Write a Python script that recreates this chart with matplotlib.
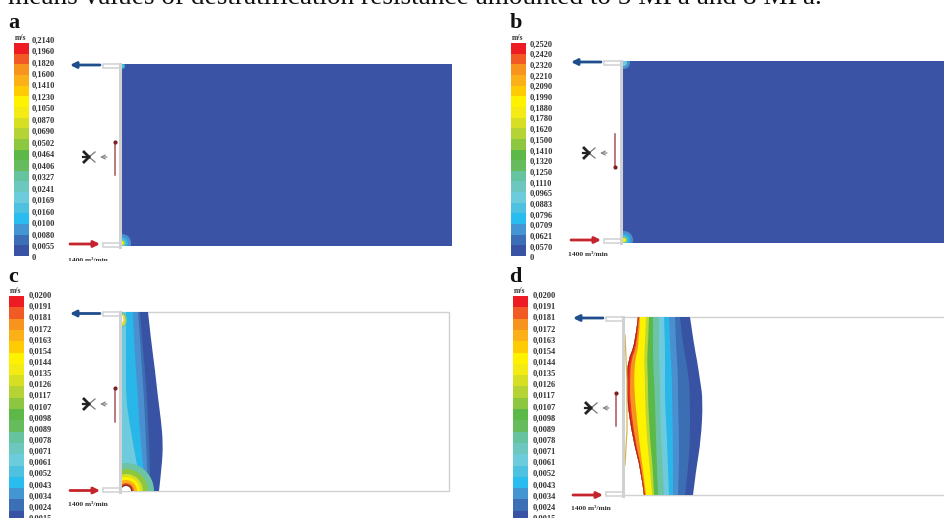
import numpy as np
import matplotlib
matplotlib.use('Agg')
import matplotlib.pyplot as plt
from matplotlib.patches import Circle, Ellipse, PathPatch, Rectangle
from matplotlib.path import Path

plt.rcParams['font.family'] = ['Liberation Serif', 'DejaVu Serif']

caption = "means values of destratification resistance amounted to 5 MPa and 8 MPa."

# colour scale, top to bottom
scale_colors = ['#ED1C24', '#F15A24', '#F7941D', '#FBB017', '#FFCB05', '#FFF200', '#F4EB14',
                '#D7DF23', '#B5D334', '#8DC63F', '#5DB947', '#66BC5C', '#65C3A0', '#6CC7BE',
                '#6DCCDC', '#4FC1E0', '#29BDEF', '#4496D2', '#3C6FB6', '#3953A4']

labels_a = ['0,2140', '0,1960', '0,1820', '0,1600', '0,1410', '0,1230', '0,1050', '0,0870',
            '0,0690', '0,0502', '0,0464', '0,0406', '0,0327', '0,0241', '0,0169', '0,0160',
            '0,0100', '0,0080', '0,0055', '0']
labels_b = ['0,2520', '0,2420', '0,2320', '0,2210', '0,2090', '0,1990', '0,1880', '0,1780',
            '0,1620', '0,1500', '0,1410', '0,1320', '0,1250', '0,1110', '0,0965', '0,0883',
            '0,0796', '0,0709', '0,0621', '0,0570', '0']
labels_cd = ['0,0200', '0,0191', '0,0181', '0,0172', '0,0163', '0,0154', '0,0144', '0,0135',
             '0,0126', '0,0117', '0,0107', '0,0098', '0,0089', '0,0078', '0,0071', '0,0061',
             '0,0052', '0,0043', '0,0034', '0,0024', '0,0015']

# velocity bands of panel c, right edge of each band per row
c_colors = ['#6ECBDD', '#29B6E8', '#4A90D0', '#3C6EB4', '#3953A4']
c_rows = [312, 340, 370, 398, 420, 443, 465, 491]
c_inner = [121, 121, 121, 121, 121, 121, 121, 121]
c_edges = [[126, 126, 126, 126, 129, 133, 137, 142],
           [133, 134, 136, 138, 139, 141, 143, 145],
           [138, 140, 142, 144, 145, 146, 147, 148],
           [140, 142, 145, 147, 148, 149, 150, 150],
           [148, 151, 155, 158, 161, 163, 162, 159]]

# velocity bands of panel d
d_colors = ['#A81E22', '#EE3124', '#F7941D', '#FFF200', '#BFD730', '#5BB947', '#6CC4A4',
            '#6ECBDD', '#29B6E8', '#4A90D0', '#3C6EB4', '#3953A4']
d_rows = [317, 345, 360, 380, 400, 440, 470, 495]
d_inner = [638, 635, 628, 627, 627, 633, 641, 644]
d_edges = [[638.5, 636, 629, 628, 628, 634, 641.5, 644.5],
           [639, 637, 631, 630, 630, 635, 642, 645],
           [640, 639, 635, 634, 635, 639, 643, 646],
           [646, 645, 644, 645, 645, 647, 650, 652],
           [649, 648, 647, 648, 648, 650, 653, 654],
           [653, 653, 653, 654, 655, 656, 657, 658],
           [659, 659, 659, 660, 660, 661, 663, 664],
           [664, 665, 665, 665, 665, 667, 668, 669],
           [669, 670, 671, 672, 672, 673, 673, 673],
           [675, 676, 677, 678, 678, 679, 679, 678],
           [680, 683, 686, 689, 690, 690, 688, 685],
           [690, 694, 697, 700, 703, 701, 696, 693]]

room_blue = '#3A53A4'
wall_gray = '#CFD1D2'

fig = plt.figure(figsize=(9.45, 5.18), dpi=100)
ax = fig.add_axes([0, 0, 1, 1])
ax.set_xlim(0, 945)
ax.set_ylim(518, 0)
ax.axis('off')


def colorbar(x, top, bottom, labels, label_x, label_top, label_step):
    h = (bottom - top) / len(scale_colors)
    for i, c in enumerate(scale_colors):
        ax.bar(x, h + 0.3, width=15, bottom=top + i * h, color=c, align='edge', linewidth=0)
    for i, t in enumerate(labels):
        ax.text(label_x, label_top + i * label_step, t, fontsize=6, fontweight='bold',
                color='#333333', va='center', ha='left')
    ax.text(x + 7, top - 5, 'm/s', fontsize=5.5, fontweight='bold', color='#333333',
            ha='center', va='center')


def duct(wall, top, bottom, arrow_top, arrow_bottom, fan_x, fan_y, line_x, line_y, up, note):
    # inlet and outlet stubs plus the wall between them
    for y in (top, bottom - 4):
        ax.add_patch(Rectangle((wall - 17, y), 17, 4, facecolor='white', edgecolor=wall_gray, lw=1.1))
    ax.plot([wall, wall], [top, bottom], color=wall_gray, lw=2.2, zorder=3)
    ax.annotate('', xy=(wall - 50, arrow_top), xytext=(wall - 20, arrow_top),
                arrowprops=dict(arrowstyle='-|>', color='#1F4E8C', lw=2, mutation_scale=9,
                                shrinkA=0, shrinkB=0))
    ax.annotate('', xy=(wall - 20, arrow_bottom), xytext=(wall - 50, arrow_bottom),
                arrowprops=dict(arrowstyle='-|>', color='#C4242B', lw=2, mutation_scale=9,
                                shrinkA=0, shrinkB=0))
    # fan symbol
    for dy in (-1, 1):
        ax.plot([fan_x - 4, fan_x + 1], [fan_y + dy * 5, fan_y], color='#222222', lw=2)
        ax.plot([fan_x + 1, fan_x + 7], [fan_y, fan_y + dy * 5], color='#777777', lw=0.9)
    ax.plot([fan_x - 5, fan_x + 1], [fan_y, fan_y], color='#222222', lw=1.6)
    ax.annotate('', xy=(fan_x + 12, fan_y), xytext=(fan_x + 19, fan_y),
                arrowprops=dict(arrowstyle='->', color='#888888', lw=0.9, mutation_scale=7,
                                shrinkA=0, shrinkB=0))
    # air movement along the wall
    ax.plot([line_x, line_x], line_y, color='#A8555A', lw=1.1)
    ax.plot([line_x], [line_y[0] if up else line_y[1]], 'o', color='#7A1F25', ms=2)
    ax.text(note[0], note[1], '1400 m³/min', fontsize=5.4, fontweight='bold', color='#333333',
            va='center', ha='left')


def curve(xs, ys):
    # the read rows act as bezier control points, so the band edges come out round
    verts = [(xs[0], ys[0])]
    for i in range(1, len(xs) - 1):
        end_x = (xs[i] + xs[i + 1]) / 2
        end_y = (ys[i] + ys[i + 1]) / 2
        if i == len(xs) - 2:
            end_x, end_y = xs[-1], ys[-1]
        verts += [(xs[i], ys[i]), (end_x, end_y)]
    return verts


def bands(edges, rows, colors, inner):
    # widest band first, the narrower ones paint over it
    for c, e in reversed(list(zip(colors, edges))):
        right = curve(e, rows)
        left = curve(inner[::-1], rows[::-1])
        verts = right + left + [right[0]]
        codes = [Path.MOVETO] + [Path.CURVE3] * (len(right) - 1) + [Path.LINETO] \
            + [Path.CURVE3] * (len(left) - 1) + [Path.CLOSEPOLY]
        ax.add_patch(PathPatch(Path(verts, codes), facecolor=c, edgecolor='none', zorder=2))


def hot_spot(x, y, radii, colors, clip):
    for r, c in zip(radii, colors):
        p = Circle((x, y), r, facecolor=c, edgecolor='none', zorder=2.5)
        ax.add_patch(p)
        p.set_clip_path(clip)


ax.text(8, 3.5, caption, fontsize=19.6, color='#111111', va='baseline', ha='left')
for t, x, y in (('a', 8, 28), ('b', 510, 28), ('c', 8, 282.5), ('d', 509, 282.5)):
    ax.text(x, y, t, fontsize=16, fontweight='bold', color='#111111', va='baseline')

# panel a
colorbar(13.5, 43, 256, labels_a, 32, 40, 11.47)
room_a = Rectangle((122, 64), 330, 182, facecolor=room_blue, edgecolor='none', zorder=1)
ax.add_patch(room_a)
duct(120, 64, 247, 65, 244, 88, 157, 115, [142, 175], True, (68, 261))
hot_spot(122, 243, [9, 6, 4, 2], ['#4A90D0', '#29B6E8', '#6CC4A4', '#FFF200'], room_a)
hot_spot(122, 66, [3, 1.5], ['#29B6E8', '#6CC4A4'], room_a)
ax.add_patch(Rectangle((60, 261), 60, 6, facecolor='white', edgecolor='none', zorder=4))

# panel b
colorbar(511, 43, 256, labels_b, 530, 44, 10.7)
room_b = Rectangle((623, 61), 322, 182, facecolor=room_blue, edgecolor='none', zorder=1)
ax.add_patch(room_b)
duct(621, 61, 243, 62, 240, 588, 153, 615, [134, 167], False, (568, 255))
hot_spot(624, 240, [9, 6, 4, 2], ['#4A90D0', '#29B6E8', '#6CC4A4', '#FFF200'], room_b)
hot_spot(624, 63, [6, 3], ['#4A90D0', '#6ECBDD'], room_b)

# panel c
colorbar(9, 296, 522, labels_cd, 29, 295.5, 11.15)
ax.add_patch(Rectangle((120, 312), 329, 179, facecolor='white', edgecolor=wall_gray, lw=1))
bands(c_edges, c_rows, c_colors, c_inner)
clip_c = Rectangle((121, 312), 40, 179, transform=ax.transData)
hot_spot(126, 491, [28, 22, 17, 14, 11, 8, 6.5, 5],
         ['#6CC4A4', '#8DC63F', '#D7DF23', '#FFF200', '#FBB017', '#F15A24', '#8C2B1E', '#FFFFFF'], clip_c)
ax.add_patch(Ellipse((123, 320), 8, 15, facecolor='#6CC4A4', edgecolor='none', zorder=2.4))
ax.add_patch(Ellipse((123, 320), 5, 11, facecolor='#E8D93A', edgecolor='none', zorder=2.5))
ax.add_patch(Ellipse((122, 319), 2.5, 7, facecolor='#FFFFFF', edgecolor='none', zorder=2.6))
duct(120, 312, 492, 313.5, 490.5, 88, 404, 115, [388, 422], True, (68, 505))

# panel d
colorbar(513, 296, 522, labels_cd, 533, 295.5, 11.15)
ax.add_patch(Rectangle((623, 317), 330, 178, facecolor='white', edgecolor=wall_gray, lw=1))
bands(d_edges, d_rows, d_colors, d_inner)
ax.plot([625, 627, 627, 625], [335, 380, 430, 465], color='#D9B44A', lw=0.9, zorder=3)
duct(623, 317, 496, 318, 495, 590, 408, 616, [393, 426], True, (571, 509))

fig.savefig('out.png', dpi=100)
